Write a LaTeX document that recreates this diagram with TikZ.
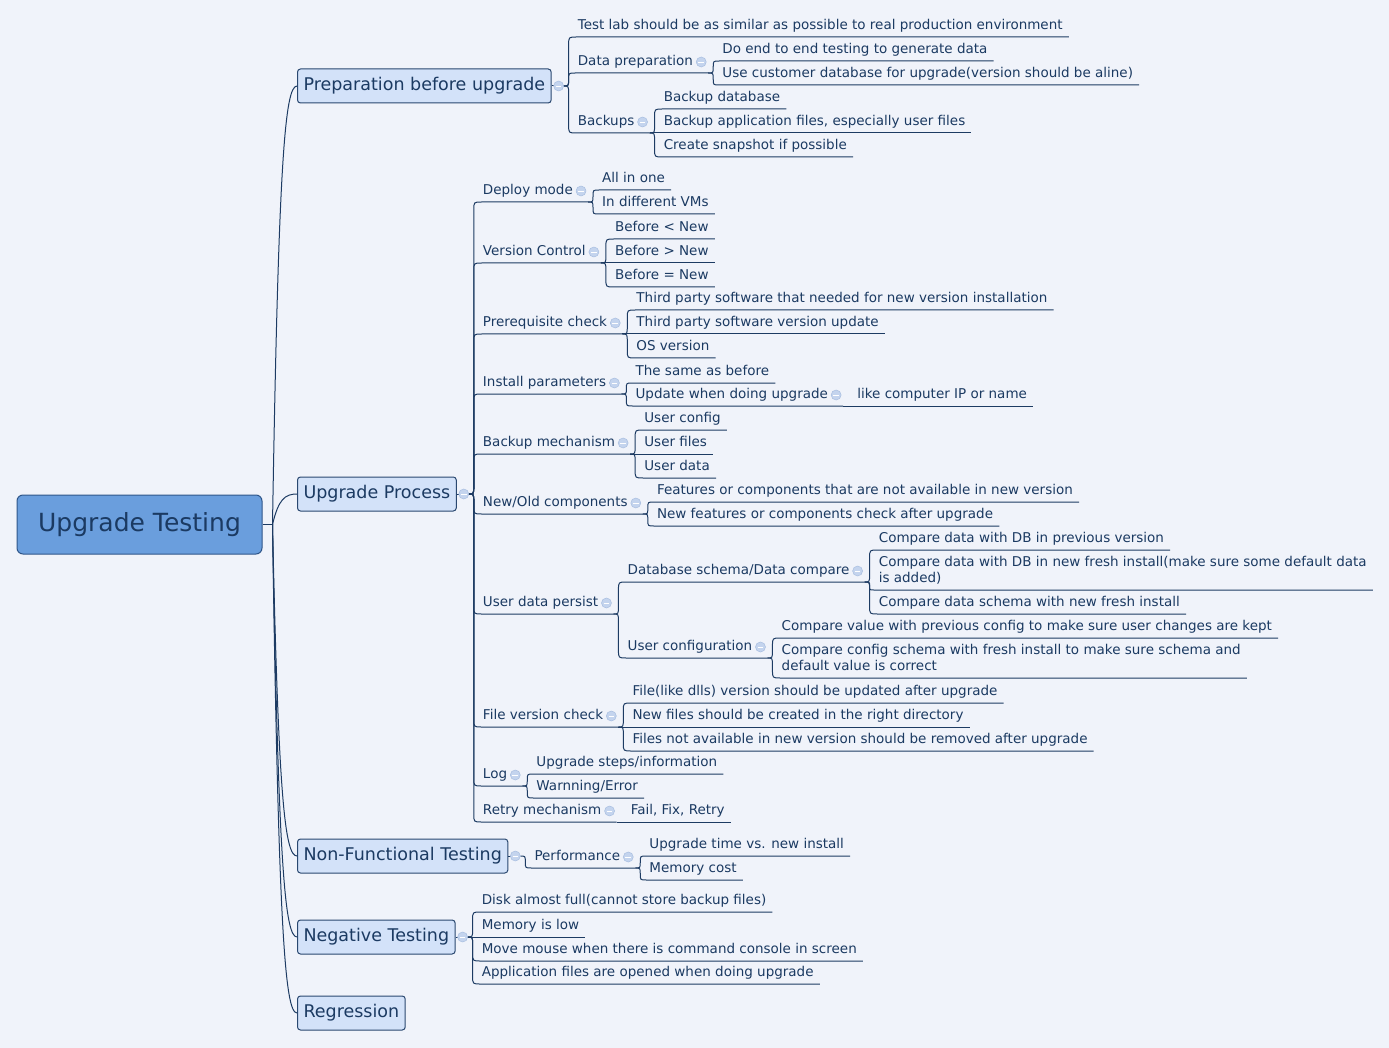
\documentclass[tikz,border=0pt]{standalone}
\usepackage{fontspec}
\setmainfont{DejaVu Sans}
\usetikzlibrary{calc}
\definecolor{bgc}{HTML}{F0F3FA}
\definecolor{txtc}{HTML}{1B3A62}
\definecolor{linec}{HTML}{1D3B63}
\definecolor{boxfill}{HTML}{D3E2F9}
\definecolor{boxline}{HTML}{2A4870}
\definecolor{rootfill}{HTML}{6A9EDD}
\definecolor{rootline}{HTML}{2F568A}
\definecolor{collfill}{HTML}{C4D4EE}
\definecolor{colldraw}{HTML}{A8BEE0}
\tikzset{
 conn/.style={draw=linec, line width=1pt},
 leaf/.style={anchor=south west, inner xsep=0pt, inner ysep=4pt, text=txtc,
   font=\fontsize{13.5}{16.5}\selectfont, text height=10pt, text depth=3pt},
 two/.style={align=left, text height={}, text depth={}},
 mainbox/.style={anchor=west, draw=boxline, fill=boxfill, line width=1pt,
   rounded corners=3pt, inner xsep=6pt, minimum height=34pt, text=txtc,
   font=\fontsize{17.5}{20}\selectfont, text height=12.6pt, text depth=3.6pt},
 rootbox/.style={draw=rootline, fill=rootfill, line width=1pt, rounded corners=6pt,
   minimum width=245pt, minimum height=59pt, text=txtc,
   font=\fontsize{25}{28}\selectfont},
 coll/.style={circle, minimum size=10pt, inner sep=0pt, fill=collfill, draw=colldraw,
   line width=0.5pt,
   path picture={\draw[white, line width=0.9pt]
     ([xshift=-2.8pt]path picture bounding box.center) --
     ([xshift=2.8pt]path picture bounding box.center);}},
}
% connector: from start (#1) to child node (#2), sign #3, corner radius #4
\newcommand\link[4]{\draw[conn] (#1) .. controls ($(#1)+(5,0)$) .. ($(#1)+(5,{#4*(#3)})$)
  -- ($(#1 |- #2.south west)+(5,{-#4*(#3)})$)
  .. controls ($(#1 |- #2.south west)+(5,0)$) .. ($(#1 |- #2.south west)+({5+#4},0)$)
  -- (#2.south east);}
\newcommand\joinkid[3]{%
  \ifnum#3=0\relax
    \draw[conn] (#1) -- (#2.south east);
  \else
    \pgfmathsetmacro\sg{ifthenelse(#3>0,1,-1)}%
    \pgfmathsetmacro\rr{min(8,abs(#3)/2)}%
    \link{#1}{#2}{\sg}{\rr}%
  \fi}
% leaf topic
\newcommand\kid[5][]{%
  \node[leaf,#1] (#2) at ($(#3)+(14,#4)$) {#5\kern6pt};
  \joinkid{#3}{#2}{#4}}
% topic with children (collapse mark)
\newcommand\pkid[5][]{%
  \node[leaf,#1] (#2) at ($(#3)+(14,#4)$) {#5\kern15pt};
  \joinkid{#3}{#2}{#4}
  \node[coll] (k#2) at ($(#2.south east)+(-7,-11)$) {};}
\newcommand\mainlink[1]{\draw[conn] (rj) .. controls ($(rj)!0.83!(rj |- #1.west)+(6,0)$)
  and ($(#1.west)+(-12,0)$) .. (#1.west);}
\begin{document}
\begin{tikzpicture}[x=1pt,y=-1pt]
\useasboundingbox (0,0) rectangle (1389,1048);
\fill[bgc] (0,0) rectangle (1389,1048);

% root and main branches
\node[rootbox] (root) at (139.5,524.5) {Upgrade Testing};
\coordinate (rj) at ($(root.east)+(10,0)$);
\draw[conn] (root.east) -- (rj);

\node[mainbox] (prep) at (297,86) {Preparation before upgrade};
\node[mainbox] (up) at (297,494) {Upgrade Process};
\node[mainbox] (nf) at (297,856) {Non-Functional Testing};
\node[mainbox] (ng) at (297,937) {Negative Testing};
\node[mainbox] (rg) at (297,1013) {Regression};
\mainlink{prep}
\mainlink{up}
\mainlink{nf}
\mainlink{ng}
\mainlink{rg}

\coordinate (prepj) at ($(prep.east)+(12,0)$);
\coordinate (upj) at ($(up.east)+(12,0)$);
\coordinate (nfj) at ($(nf.east)+(12,0)$);
\coordinate (ngj) at ($(ng.east)+(12,0)$);
\draw[conn] (prep.east) -- (prepj);
\draw[conn] (up.east) -- (upj);
\draw[conn] (nf.east) -- (nfj);
\draw[conn] (ng.east) -- (ngj);

% Preparation before upgrade
\kid{t1}{prepj}{-49}{Test lab should be as similar as possible to real production environment}
\pkid{dp}{prepj}{-13}{Data preparation}
\kid{dp1}{dp.south east}{-12}{Do end to end testing to generate data}
\kid{dp2}{dp.south east}{12}{Use customer database for upgrade(version should be aline)}
\pkid{bk}{prepj}{47}{Backups}
\kid{bk1}{bk.south east}{-24}{Backup database}
\kid{bk2}{bk.south east}{0}{Backup application files, especially user files}
\kid{bk3}{bk.south east}{24}{Create snapshot if possible}

% Upgrade Process
\pkid{dm}{upj}{-292}{Deploy mode}
\kid{dm1}{dm.south east}{-12}{All in one}
\kid{dm2}{dm.south east}{12}{In different VMs}
\pkid{vc}{upj}{-231}{Version Control}
\kid{vc1}{vc.south east}{-24}{Before < New}
\kid{vc2}{vc.south east}{0}{Before > New}
\kid{vc3}{vc.south east}{24}{Before = New}
\pkid{pc}{upj}{-160}{Prerequisite check}
\kid{pc1}{pc.south east}{-24}{Third party software that needed for new version installation}
\kid{pc2}{pc.south east}{0}{Third party software version update}
\kid{pc3}{pc.south east}{24}{OS version}
\pkid{ip}{upj}{-100}{Install parameters}
\kid{ip1}{ip.south east}{-11}{The same as before}
\pkid{ip2}{ip.south east}{12}{Update when doing upgrade}
\kid{ip3}{ip2.south east}{0}{like computer IP or name}
\pkid{bm}{upj}{-40}{Backup mechanism}
\kid{bm1}{bm.south east}{-24}{User config}
\kid{bm2}{bm.south east}{0}{User files}
\kid{bm3}{bm.south east}{24}{User data}
\pkid{no}{upj}{20}{New/Old components}
\kid{no1}{no.south east}{-12}{Features or components that are not available in new version}
\kid{no2}{no.south east}{12}{New features or components check after upgrade}
\pkid{ud}{upj}{120}{User data persist}
\pkid{db}{ud.south east}{-32}{Database schema/Data compare}
\kid{db1}{db.south east}{-32}{Compare data with DB in previous version}
\kid[two]{db2}{db.south east}{8}{Compare data with DB in new fresh install(make sure some default data\kern6pt\\is added)\vphantom{g}}
\kid{db3}{db.south east}{32}{Compare data schema with new fresh install}
\pkid{uc}{ud.south east}{44}{User configuration}
\kid{uc1}{uc.south east}{-20}{Compare value with previous config to make sure user changes are kept}
\kid[two]{uc2}{uc.south east}{20}{Compare config schema with fresh install to make sure schema and\kern6pt\\default value is correct\vphantom{g}}
\pkid{fv}{upj}{233}{File version check}
\kid{fv1}{fv.south east}{-24}{File(like dlls) version should be updated after upgrade}
\kid{fv2}{fv.south east}{0}{New files should be created in the right directory}
\kid{fv3}{fv.south east}{24}{Files not available in new version should be removed after upgrade}
\pkid{lg}{upj}{292}{Log}
\kid{lg1}{lg.south east}{-12}{Upgrade steps/information}
\kid{lg2}{lg.south east}{12}{Warnning/Error}
\pkid{rm}{upj}{328}{Retry mechanism}
\kid{rm1}{rm.south east}{0}{Fail, Fix, Retry}

% Non-Functional Testing
\pkid{pf}{nfj}{12}{Performance}
\kid{pf1}{pf.south east}{-12}{Upgrade time vs. new install}
\kid{pf2}{pf.south east}{12}{Memory cost}

% Negative Testing
\kid{ng1}{ngj}{-25}{Disk almost full(cannot store backup files)}
\kid{ng2}{ngj}{0}{Memory is low}
\kid{ng3}{ngj}{24}{Move mouse when there is command console in screen}
\kid{ng4}{ngj}{47}{Application files are opened when doing upgrade}

% collapse marks of the main topics
\node[coll] (kprep) at ($(prep.east)+(7,0)$) {};
\node[coll] (kup) at ($(up.east)+(7,0)$) {};
\node[coll] (knf) at ($(nf.east)+(7,0)$) {};
\node[coll] (kng) at ($(ng.east)+(7,0)$) {};
\end{tikzpicture}
\end{document}
